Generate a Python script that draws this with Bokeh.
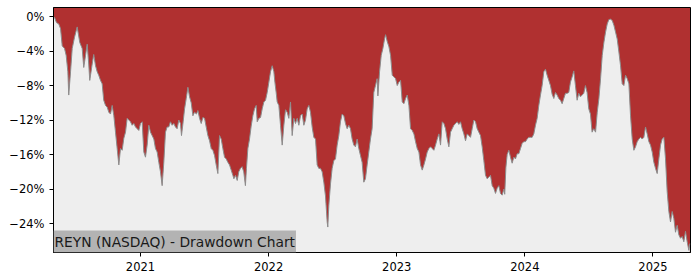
from bokeh.plotting import figure
from bokeh.models import Label, Range1d
from bokeh.embed import file_html
from bokeh.resources import INLINE

# Drawdown series (decimal year, drawdown in %)
years = [
    2020.321, 2020.329, 2020.344, 2020.362, 2020.376, 2020.389, 2020.407, 2020.420, 2020.433, 2020.440,
    2020.454, 2020.467, 2020.485, 2020.506, 2020.526, 2020.545, 2020.557, 2020.571, 2020.584, 2020.596,
    2020.604, 2020.623, 2020.635, 2020.649, 2020.662, 2020.674, 2020.688, 2020.701, 2020.713, 2020.727,
    2020.740, 2020.753, 2020.766, 2020.779, 2020.792, 2020.805, 2020.818, 2020.831, 2020.844, 2020.857,
    2020.870, 2020.883, 2020.896, 2020.909, 2020.922, 2020.935, 2020.948, 2020.961, 2020.974, 2020.987,
    2021.000, 2021.013, 2021.026, 2021.039, 2021.052, 2021.065, 2021.078, 2021.091, 2021.104, 2021.117,
    2021.130, 2021.143, 2021.156, 2021.169, 2021.182, 2021.195, 2021.208, 2021.221, 2021.234, 2021.247,
    2021.260, 2021.273, 2021.286, 2021.299, 2021.312, 2021.320, 2021.333, 2021.344, 2021.357, 2021.370,
    2021.383, 2021.396, 2021.409, 2021.422, 2021.437, 2021.448, 2021.461, 2021.474, 2021.487, 2021.500,
    2021.513, 2021.526, 2021.539, 2021.552, 2021.565, 2021.578, 2021.591, 2021.604, 2021.617, 2021.630,
    2021.643, 2021.656, 2021.669, 2021.682, 2021.695, 2021.708, 2021.721, 2021.729, 2021.742, 2021.755,
    2021.767, 2021.780, 2021.793, 2021.806, 2021.819, 2021.827, 2021.838, 2021.851, 2021.864, 2021.877,
    2021.890, 2021.903, 2021.911, 2021.924, 2021.937, 2021.950, 2021.963, 2021.976, 2021.989, 2022.002,
    2022.015, 2022.028, 2022.041, 2022.049, 2022.059, 2022.067, 2022.080, 2022.093, 2022.106, 2022.119,
    2022.132, 2022.145, 2022.158, 2022.171, 2022.184, 2022.197, 2022.210, 2022.223, 2022.236, 2022.249,
    2022.262, 2022.275, 2022.288, 2022.301, 2022.314, 2022.327, 2022.340, 2022.353, 2022.366, 2022.379,
    2022.392, 2022.405, 2022.418, 2022.431, 2022.444, 2022.457, 2022.462, 2022.470, 2022.483, 2022.496,
    2022.509, 2022.522, 2022.535, 2022.548, 2022.561, 2022.574, 2022.587, 2022.600, 2022.613, 2022.626,
    2022.639, 2022.652, 2022.665, 2022.678, 2022.691, 2022.704, 2022.717, 2022.730, 2022.743, 2022.756,
    2022.769, 2022.782, 2022.795, 2022.808, 2022.821, 2022.834, 2022.847, 2022.853, 2022.866, 2022.879,
    2022.892, 2022.905, 2022.913, 2022.926, 2022.939, 2022.952, 2022.965, 2022.978, 2022.991, 2023.004,
    2023.017, 2023.030, 2023.043, 2023.056, 2023.069, 2023.082, 2023.095, 2023.108, 2023.121, 2023.134,
    2023.147, 2023.160, 2023.173, 2023.186, 2023.199, 2023.212, 2023.225, 2023.238, 2023.251, 2023.264,
    2023.277, 2023.290, 2023.303, 2023.316, 2023.329, 2023.342, 2023.355, 2023.368, 2023.381, 2023.394,
    2023.407, 2023.420, 2023.433, 2023.446, 2023.459, 2023.472, 2023.485, 2023.498, 2023.511, 2023.524,
    2023.537, 2023.550, 2023.563, 2023.576, 2023.589, 2023.602, 2023.615, 2023.628, 2023.641, 2023.654,
    2023.667, 2023.680, 2023.693, 2023.706, 2023.719, 2023.732, 2023.745, 2023.758, 2023.771, 2023.784,
    2023.797, 2023.810, 2023.823, 2023.836, 2023.843, 2023.852, 2023.862, 2023.875, 2023.888, 2023.901,
    2023.914, 2023.927, 2023.940, 2023.953, 2023.966, 2023.979, 2023.992, 2024.005, 2024.018, 2024.031,
    2024.044, 2024.057, 2024.070, 2024.083, 2024.096, 2024.109, 2024.122, 2024.135, 2024.148, 2024.161,
    2024.174, 2024.187, 2024.200, 2024.213, 2024.226, 2024.239, 2024.252, 2024.265, 2024.278, 2024.291,
    2024.304, 2024.317, 2024.330, 2024.343, 2024.356, 2024.369, 2024.382, 2024.395, 2024.408, 2024.421,
    2024.434, 2024.447, 2024.460, 2024.473, 2024.486, 2024.499, 2024.512, 2024.525, 2024.538, 2024.552,
    2024.565, 2024.578, 2024.591, 2024.604, 2024.617, 2024.630, 2024.643, 2024.656, 2024.669, 2024.682,
    2024.695, 2024.708, 2024.721, 2024.734, 2024.747, 2024.760, 2024.773, 2024.786, 2024.799, 2024.812,
    2024.825, 2024.838, 2024.851, 2024.864, 2024.877, 2024.890, 2024.903, 2024.916, 2024.929, 2024.942,
    2024.955, 2024.968, 2024.981, 2024.994, 2025.007, 2025.020, 2025.033, 2025.046, 2025.059, 2025.072,
    2025.085, 2025.098, 2025.111, 2025.124, 2025.137, 2025.150, 2025.163, 2025.176, 2025.189, 2025.202,
    2025.215, 2025.228, 2025.241, 2025.254, 2025.267, 2025.280, 2025.288,
]
drawdown = [
    0.0, -0.1, -0.7, -0.85, -1.4, -3.4, -3.7, -4.5, -6.4, -9.1,
    -6.4, -3.7, -2.4, -1.2, -3.0, -3.7, -5.9, -4.5, -3.2, -5.5,
    -7.4, -5.5, -4.4, -5.7, -6.4, -6.8, -7.4, -7.8, -9.7, -10.3,
    -10.5, -11.1, -11.3, -10.3, -11.5, -13.4, -15.3, -17.2, -15.3, -15.5,
    -14.1, -13.4, -11.8, -12.0, -12.2, -12.6, -12.4, -12.8, -13.0, -13.2,
    -12.4, -12.2, -15.7, -16.3, -14.9, -12.6, -13.4, -13.8, -14.2, -15.3,
    -15.7, -16.9, -18.0, -19.6, -16.9, -13.4, -12.8, -12.8, -12.2, -12.6,
    -12.4, -12.8, -13.0, -12.0, -12.4, -13.8, -12.2, -10.7, -9.5, -8.2,
    -9.3, -10.0, -11.5, -11.1, -11.3, -10.9, -11.8, -12.4, -11.7, -11.8,
    -12.8, -13.8, -14.4, -15.3, -15.5, -16.1, -17.2, -18.2, -13.8, -14.2,
    -15.3, -16.3, -16.5, -16.9, -17.2, -17.8, -18.4, -18.8, -18.4, -19.0,
    -18.0, -17.6, -17.4, -18.0, -19.6, -17.6, -15.3, -14.2, -12.7, -11.5,
    -10.7, -10.3, -12.2, -11.8, -11.7, -10.7, -9.9, -9.7, -8.8, -7.6,
    -6.4, -5.7, -6.4, -7.6, -8.8, -9.9, -10.3, -12.6, -14.9, -12.6,
    -10.8, -11.1, -11.8, -9.9, -13.8, -11.8, -12.4, -11.8, -12.6, -11.5,
    -11.3, -12.6, -12.0, -10.7, -10.3, -11.1, -12.8, -14.0, -14.2, -17.2,
    -17.6, -17.6, -18.0, -19.2, -20.8, -23.8, -24.4, -21.9, -19.4, -17.6,
    -16.7, -16.5, -14.9, -13.8, -12.2, -11.3, -11.5, -12.4, -13.0, -12.6,
    -13.0, -14.2, -14.9, -15.1, -14.2, -15.3, -16.1, -16.9, -19.2, -18.8,
    -17.2, -15.7, -14.2, -13.0, -8.8, -8.0, -7.2, -9.2, -6.4, -4.5,
    -3.7, -2.6, -2.1, -2.9, -3.5, -4.5, -6.8, -7.0, -7.2, -8.0,
    -7.6, -7.4, -9.9, -10.1, -9.5, -9.1, -10.3, -13.0, -13.2, -13.6,
    -14.5, -15.3, -15.7, -17.2, -17.8, -17.2, -16.5, -15.7, -15.3, -15.1,
    -15.3, -15.5, -14.9, -14.2, -13.6, -14.9, -12.2, -12.4, -13.0, -14.2,
    -15.1, -13.4, -13.0, -12.6, -12.4, -12.2, -12.5, -12.2, -13.0, -13.6,
    -14.4, -13.6, -13.8, -14.0, -13.0, -12.0, -12.2, -13.0, -13.4, -13.8,
    -15.1, -16.7, -18.4, -18.8, -18.6, -18.4, -19.6, -19.9, -20.5, -19.9,
    -19.6, -20.5, -20.7, -20.0, -20.6, -17.5, -16.0, -15.5, -16.3, -17.0,
    -16.3, -16.5, -15.9, -15.9, -15.3, -14.7, -14.5, -14.5, -14.2, -14.0,
    -14.0, -14.0, -13.6, -12.6, -11.8, -10.3, -9.1, -8.0, -6.4, -6.1,
    -6.8, -7.4, -8.0, -9.0, -9.5, -8.8, -9.1, -9.5, -9.7, -10.1,
    -9.5, -8.9, -8.9, -8.8, -7.6, -7.0, -6.3, -8.0, -9.7, -8.9,
    -9.3, -9.1, -8.9, -8.0, -8.8, -10.7, -11.3, -13.4, -13.0, -13.4,
    -11.1, -9.5, -7.2, -4.5, -3.0, -1.8, -0.85, -0.35, -0.3, -0.45,
    -1.0, -1.8, -2.6, -4.1, -5.7, -7.8, -8.0, -6.8, -7.2, -7.8,
    -11.5, -14.2, -15.5, -15.1, -14.5, -14.2, -14.0, -14.2, -14.0, -12.8,
    -13.6, -14.5, -14.9, -15.7, -16.9, -17.6, -18.2, -16.5, -14.9, -14.2,
    -14.0, -16.5, -20.3, -22.6, -23.8, -22.6, -23.4, -25.0, -24.2, -25.3,
    -25.7, -25.5, -26.1, -24.9, -26.1, -27.1, -26.3,
]

y_ticks = [-24, -20, -16, -12, -8, -4, 0]
y_tick_labels = ["\u221224%", "\u221220%", "\u221216%", "\u221212%", "\u22128%", "\u22124%", "0%"]
x_ticks = [2021, 2022, 2023, 2024, 2025]
x_tick_labels = ["2021", "2022", "2023", "2024", "2025"]
title_text = "REYN (NASDAQ) - Drawdown Chart"

x_lo, x_hi = years[0], 2025.293
y_lo, y_hi = -27.35, 1.05

p = figure(width=700, height=280, output_backend="svg", toolbar_location=None,
           x_range=Range1d(x_lo, x_hi), y_range=Range1d(y_lo, y_hi),
           min_border_left=53, min_border_right=10, min_border_top=7, min_border_bottom=28)

p.background_fill_color = "#b03030"
p.border_fill_color = "white"
p.outline_line_color = "black"
p.outline_line_width = 1
p.grid.visible = False

p.varea(x=years, y1=[y_lo - 5] * len(years), y2=drawdown, fill_color="#eeeeee")
p.line(x=years, y=drawdown, line_color="#8c8c8c", line_width=1)

for ax, ticks, labels in ((p.xaxis, x_ticks, x_tick_labels), (p.yaxis, y_ticks, y_tick_labels)):
    ax.ticker = ticks
    ax.major_label_overrides = dict(zip(ticks, labels))
    ax.minor_tick_line_color = None
    ax.major_tick_in = 0
    ax.major_tick_out = 4
    ax.major_tick_line_color = "black"
    ax.axis_line_color = "black"
    ax.major_label_text_font = "DejaVu Sans"
    ax.major_label_text_font_size = "11.5px"
    ax.major_label_text_color = "black"
    ax.major_label_standoff = 5

label = Label(x=x_lo, y=y_lo, text=title_text, anchor="bottom_left",
              text_font="DejaVu Sans", text_font_size="13.8px", text_color="#1a1a1a",
              background_fill_color="#b3b3b3", padding=(1, 3))
p.add_layout(label)

open("out.html", "w").write(file_html(p, INLINE))
